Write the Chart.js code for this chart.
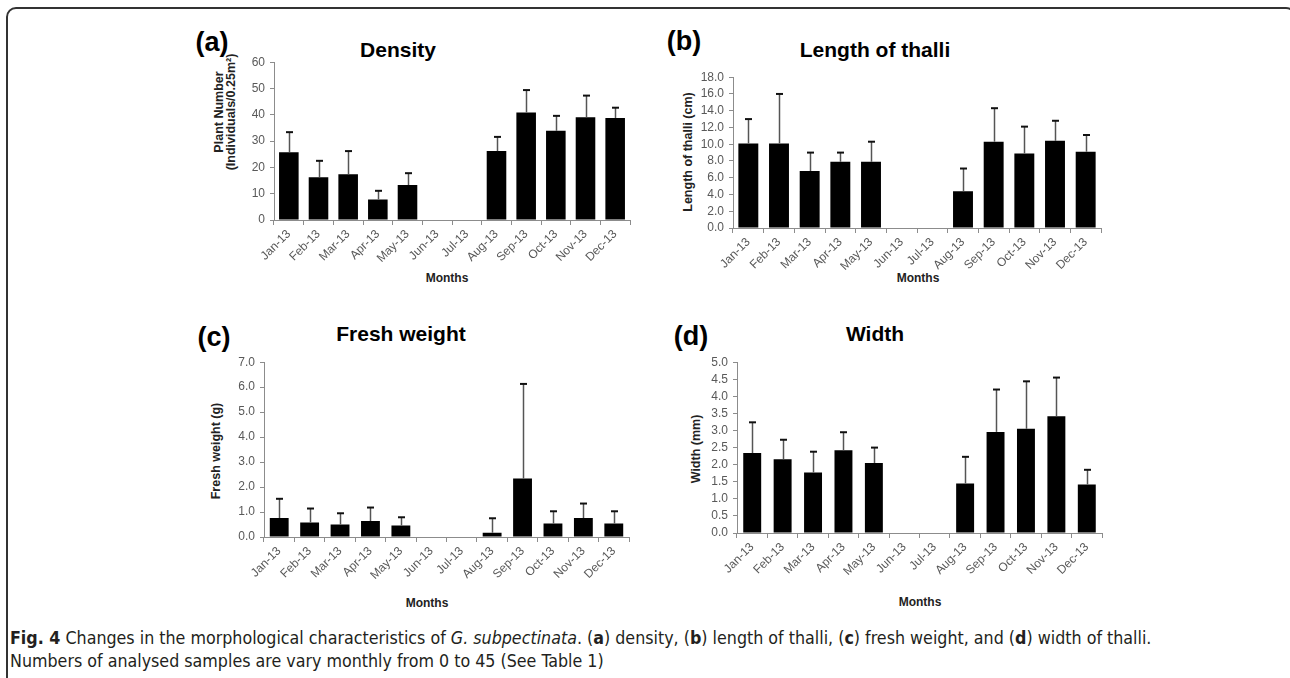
<!DOCTYPE html>
<html>
<head>
<meta charset="utf-8">
<script src="https://cdn.jsdelivr.net/npm/chart.js@4.4.0/dist/chart.umd.min.js"></script>
<style>
  body { margin: 0; background: #fff; width: 1290px; height: 678px; overflow: hidden; position: relative;
         font-family: "Liberation Sans", Arial, sans-serif; }
  .frame { position: absolute; left: 6px; top: 7px; width: 1290px; height: 720px; border: 2px solid #333;
           border-radius: 10px; box-sizing: border-box; }
  .lbl { position: absolute; white-space: nowrap; transform: translate(-50%, -50%); color: #000; }
  .tag { font-weight: bold; font-size: 27px; }
  .ttl { font-weight: bold; font-size: 21px; }
  .xt { font-weight: bold; font-size: 12px; color: #222; }
  .yt { font-weight: bold; font-size: 12.5px; color: #222; line-height: 12px; text-align: center;
        transform: translate(-50%, -50%) rotate(-90deg); }
  canvas { position: absolute; }
  .cap { position: absolute; left: 10px; top: 627px; font-family: "Liberation Sans Narrow", "DejaVu Sans Condensed", "Open Sans", sans-serif;
         font-size: 17.7px; line-height: 23px; color: #231f20; white-space: nowrap; }
</style>
</head>
<body>
<div class="frame"></div>

<div class="lbl tag" style="left:212px;top:42px">(a)</div>
<div class="lbl ttl" style="left:398px;top:50px">Density</div>
<div class="lbl yt" style="left:225px;top:112px">Plant Number<br>(Individuals/0.25m²)</div>
<div class="lbl xt" style="left:447px;top:278px">Months</div>

<div class="lbl tag" style="left:684px;top:41px">(b)</div>
<div class="lbl ttl" style="left:875px;top:50px">Length of thalli</div>
<div class="lbl yt" style="left:688px;top:152px">Length of thalli (cm)</div>
<div class="lbl xt" style="left:918px;top:278px">Months</div>

<div class="lbl tag" style="left:214px;top:337px">(c)</div>
<div class="lbl ttl" style="left:401px;top:334px">Fresh weight</div>
<div class="lbl yt" style="left:216px;top:451px">Fresh weight (g)</div>
<div class="lbl xt" style="left:427px;top:603px">Months</div>

<div class="lbl tag" style="left:691px;top:336px">(d)</div>
<div class="lbl ttl" style="left:875px;top:334px">Width</div>
<div class="lbl yt" style="left:696px;top:449px">Width (mm)</div>
<div class="lbl xt" style="left:920px;top:602px">Months</div>

<canvas id="chartA"></canvas>
<canvas id="chartB"></canvas>
<canvas id="chartC"></canvas>
<canvas id="chartD"></canvas>

<div class="cap"><b>Fig. 4</b> Changes in the morphological characteristics of <i>G. subpectinata</i>. (<b>a</b>) density, (<b>b</b>) length of thalli, (<b>c</b>) fresh weight, and (<b>d</b>) width of thalli.<br>Numbers of analysed samples are vary monthly from 0 to 45 (See Table 1)</div>

<script>
const months = ['Jan-13', 'Feb-13', 'Mar-13', 'Apr-13', 'May-13', 'Jun-13', 'Jul-13', 'Aug-13', 'Sep-13', 'Oct-13', 'Nov-13', 'Dec-13'];

// (a) density
const densityMean = [25.8, 16.3, 17.4, 7.8, 13.3, null, null, 26.2, 40.9, 33.9, 39.1, 38.8];
const densitySd   = [7.6, 6.2, 8.8, 3.3, 4.5, null, null, 5.4, 8.5, 5.7, 8.2, 3.9];
const densityTicks = [0, 10, 20, 30, 40, 50, 60];

// (b) length of thalli
const lengthMean = [10.1, 10.1, 6.8, 7.9, 7.9, null, null, 4.4, 10.3, 8.9, 10.4, 9.1];
const lengthSd   = [2.9, 5.9, 2.2, 1.1, 2.4, null, null, 2.7, 4.0, 3.2, 2.4, 2.0];
const lengthTicks = [0, 2, 4, 6, 8, 10, 12, 14, 16, 18];

// (c) fresh weight
const weightMean = [0.76, 0.58, 0.50, 0.64, 0.46, null, null, 0.17, 2.34, 0.54, 0.76, 0.54];
const weightSd   = [0.77, 0.56, 0.45, 0.54, 0.33, null, null, 0.58, 3.79, 0.49, 0.58, 0.49];
const weightTicks = [0, 1, 2, 3, 4, 5, 6, 7];

// (d) width
const widthMean = [2.34, 2.16, 1.77, 2.42, 2.05, null, null, 1.45, 2.96, 3.05, 3.42, 1.42];
const widthSd   = [0.90, 0.57, 0.61, 0.53, 0.45, null, null, 0.78, 1.24, 1.39, 1.13, 0.43];
const widthTicks = [0, 0.5, 1, 1.5, 2, 2.5, 3, 3.5, 4, 4.5, 5];

const axisGray = '#8c8c8c';
const tickFont = { family: '"Liberation Sans", Arial, sans-serif', size: 12 };

// upper error bars, drawn from the scales
function errorBars(sd) {
  return {
    id: 'errorBars',
    afterDatasetsDraw(chart) {
      const ctx = chart.ctx;
      const xs = chart.scales.x, ys = chart.scales.y;
      const mean = chart.data.datasets[0].data;
      ctx.save();
      mean.forEach((m, i) => {
        if (m == null || sd[i] == null) return;
        const px = Math.round(xs.getPixelForValue(i)) + 0.5;
        const y0 = ys.getPixelForValue(m);
        const y1 = ys.getPixelForValue(m + sd[i]);
        ctx.strokeStyle = '#555';
        ctx.lineWidth = 1.5;
        ctx.beginPath();
        ctx.moveTo(px, y0);
        ctx.lineTo(px, y1);
        ctx.stroke();
        ctx.strokeStyle = '#111';
        ctx.lineWidth = 2;
        ctx.beginPath();
        ctx.moveTo(px - 3.5, y1);
        ctx.lineTo(px + 3.5, y1);
        ctx.stroke();
      });
      ctx.restore();
    }
  };
}

function makePanel(id, box, mean, sd, ticks, decimals, barPct) {
  const canvas = document.getElementById(id);
  const w = box.right - box.axis + 72;
  const h = box.bottom - box.top + 12 + 80;
  canvas.width = w;
  canvas.height = h;
  canvas.style.left = (box.axis - 60) + 'px';
  canvas.style.top = (box.top - 12) + 'px';
  canvas.style.width = w + 'px';
  canvas.style.height = h + 'px';

  return new Chart(canvas, {
    type: 'bar',
    data: {
      labels: months,
      datasets: [{
        data: mean,
        backgroundColor: '#000',
        borderWidth: 0,
        barPercentage: barPct,
        categoryPercentage: 1
      }]
    },
    options: {
      responsive: false,
      animation: false,
      devicePixelRatio: 1,
      layout: { padding: { left: 0, top: 12, right: 12, bottom: 0 } },
      plugins: { legend: { display: false }, tooltip: { enabled: false }, title: { display: false } },
      scales: {
        x: {
          grid: { drawOnChartArea: false, color: axisGray, tickLength: 5, offset: true },
          border: { color: axisGray, width: 1 },
          ticks: { autoSkip: false, minRotation: 45, maxRotation: 45, color: '#595959', font: tickFont, padding: 2 },
          afterFit(s) { s.height = 80; }
        },
        y: {
          min: ticks[0],
          max: ticks[ticks.length - 1],
          afterBuildTicks(s) { s.ticks = ticks.map(v => ({ value: v })); },
          ticks: { autoSkip: false, color: '#595959', font: tickFont, padding: 5, callback: v => Number(v).toFixed(decimals) },
          grid: { drawOnChartArea: false, color: axisGray, tickLength: 4 },
          border: { color: axisGray, width: 1 },
          afterFit(s) { s.width = 60; }
        }
      }
    },
    plugins: [errorBars(sd)]
  });
}

makePanel('chartA', { axis: 274, top: 62, bottom: 220, right: 630 }, densityMean, densitySd, densityTicks, 0, 0.66);
makePanel('chartB', { axis: 733, top: 77, bottom: 228, right: 1101 }, lengthMean, lengthSd, lengthTicks, 1, 0.65);
makePanel('chartC', { axis: 264, top: 362, bottom: 537, right: 629 }, weightMean, weightSd, weightTicks, 1, 0.62);
makePanel('chartD', { axis: 737, top: 362, bottom: 533, right: 1102 }, widthMean, widthSd, widthTicks, 1, 0.59);
</script>
</body>
</html>
